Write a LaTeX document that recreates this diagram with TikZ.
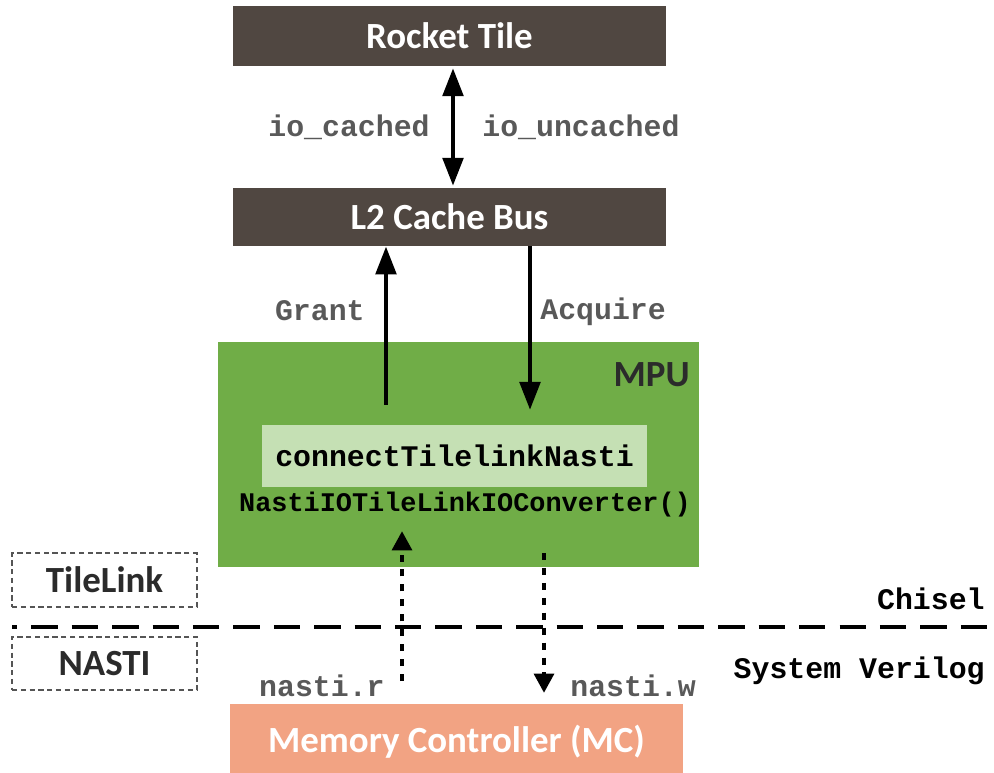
\documentclass[tikz,border=0pt]{standalone}
\usepackage{fontspec}
\setmainfont{Carlito}
\setmonofont{Liberation Mono}
\usetikzlibrary{arrows.meta}
\definecolor{tilebrown}{HTML}{504741}
\definecolor{mpugreen}{HTML}{70AD47}
\definecolor{convgreen}{HTML}{C5E0B4}
\definecolor{mcsalmon}{HTML}{F2A383}
\definecolor{lblgray}{HTML}{595959}
\definecolor{darktext}{HTML}{2B2B2B}

\begin{document}
\begin{tikzpicture}[x=0.02cm, y=-0.02cm, >={Triangle[length=16pt,width=11.5pt]},
  blk/.style={rectangle, fill=tilebrown, text=white, inner sep=0pt,
    font=\bfseries\fontsize{21}{25}\selectfont, minimum width=8.66cm, minimum height=1.2cm},
  sig/.style={text=lblgray, font=\ttfamily\bfseries\fontsize{17}{20}\selectfont, inner sep=0pt},
  layer/.style={text=black, font=\ttfamily\bfseries\fontsize{17}{20}\selectfont, inner sep=0pt},
  proto/.style={rectangle, draw=darktext!80, densely dashed, line width=0.9pt, text=darktext,
    font=\bfseries\fontsize{21}{25}\selectfont, minimum width=3.7cm, minimum height=1.07cm},
  bus/.style={line width=2.8pt},
  nasti/.style={line width=2.8pt, dash pattern=on 4pt off 4.5pt,
    >={Triangle[length=11pt,width=11pt]}}]
  \useasboundingbox (0,0) rectangle (994,773);

  % top blocks
  \node[blk] (rt) at (449.5,36) {Rocket Tile};
  \node[blk, minimum height=1.16cm] (l2) at (449.5,217) {L2 Cache Bus};

  % mpu and converter
  \node[rectangle, fill=mpugreen, minimum width=9.62cm, minimum height=4.5cm] (mpu) at (458.5,454.5) {};
  \node[anchor=north east, text=darktext, font=\bfseries\fontsize{21}{25}\selectfont, inner sep=0pt]
    (mputxt) at (690,362) {MPU};
  \node[rectangle, fill=convgreen, minimum width=7.7cm, minimum height=1.24cm, inner sep=0pt,
    font=\ttfamily\bfseries\fontsize{17}{20}\selectfont] (conn) at (454.5,456) {connectTilelinkNasti};
  \node[font=\ttfamily\bfseries\fontsize{15.3}{18}\selectfont, inner sep=0pt] (conv) at (465,505)
    {NastiIOTileLinkIOConverter()};

  % memory controller
  \node[rectangle, fill=mcsalmon, text=white, inner sep=0pt, minimum width=9.06cm, minimum height=1.52cm,
    font=\bfseries\fontsize{21}{25}\selectfont] (mc) at (456.5,742) {Memory Controller (MC)};

  % protocol boxes
  \node[proto] (tl) at (104.5,580) {TileLink};
  \node[proto] (na) at (104.5,663.5) {NASTI};
  \coordinate (sepl) at (12,627);
  \coordinate (sepr) at (994,627);
  \draw[line width=2.8pt, dash pattern=on 15pt off 8pt, dash phase=12pt] (sepl) -- (sepr);
  \node[layer, anchor=east] (chisel) at (985,599) {Chisel};
  \node[layer, anchor=east] (sv) at (985,671) {System Verilog};

  % tilelink connectors
  \draw[bus, <->, shorten <=1pt, shorten >=1pt] ([xshift=0.07cm]rt.south) -- ([xshift=0.07cm]l2.north);
  \node[sig, anchor=east] (cached) at (430,127) {io\_cached};
  \node[sig, anchor=west] (uncached) at (482,127) {io\_uncached};

  \coordinate (gr) at (386,405);
  \coordinate (aq) at (530,410);
  \draw[bus, ->] (gr) -- (gr |- l2.south);
  \draw[bus, ->] (aq |- l2.south) -- (aq);
  \node[sig, anchor=east] (grant) at (365,311) {Grant};
  \node[sig, anchor=west] (acquire) at (540,312) {Acquire};

  % nasti connectors
  \coordinate (rd0) at (402,681);
  \coordinate (rd1) at (402,531);
  \coordinate (wr0) at (544,553);
  \coordinate (wr1) at (544,693);
  \draw[nasti, ->] (rd0) -- (rd1);
  \draw[nasti, ->] (wr0) -- (wr1);
  \node[sig, anchor=east] (nr) at (385,686) {nasti.r};
  \node[sig, anchor=west] (nw) at (570,686) {nasti.w};
\end{tikzpicture}
\end{document}
